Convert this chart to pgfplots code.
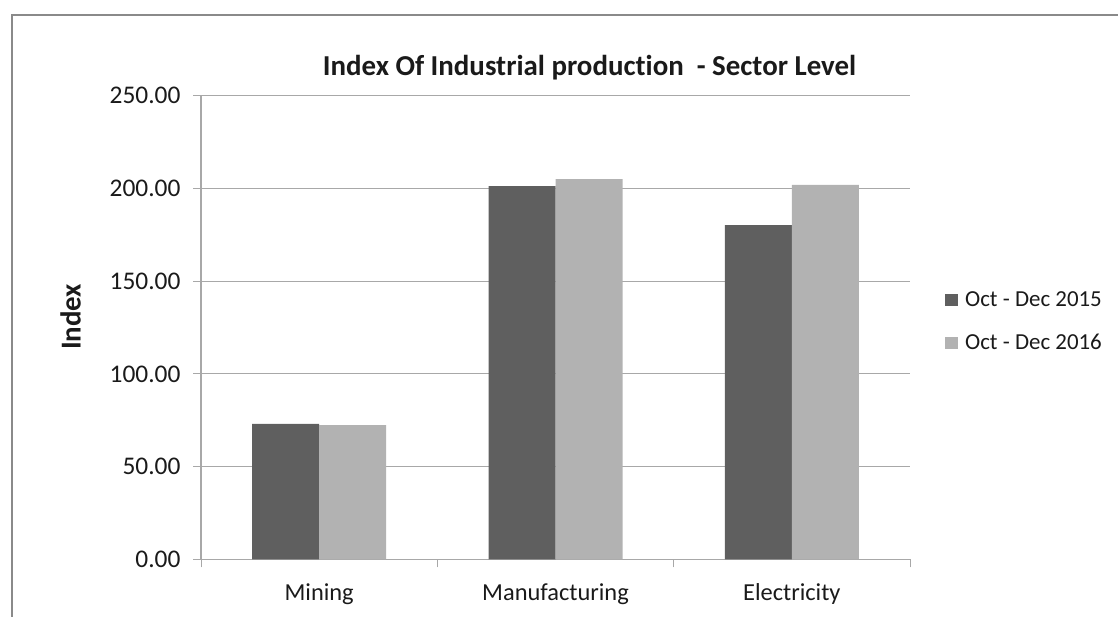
\documentclass[border=0pt]{standalone}
\usepackage{pgfplots}
\pgfplotsset{compat=1.18}
\usepackage{fontspec}
\setmainfont{Carlito}[Ligatures=NoCommon]
\definecolor{darkbar}{HTML}{5F5F5F}
\definecolor{lightbar}{HTML}{B2B2B2}
\definecolor{gridc}{HTML}{A8A8A8}
\definecolor{framec}{HTML}{8A8A8A}
\definecolor{txt}{HTML}{1A1A1A}
\begin{document}
\begin{tikzpicture}[x=1bp,y=1bp]
\useasboundingbox (0,0) rectangle (1118,617);
\draw[framec, line width=2.5bp] (12,0) -- (12,602) -- (1118,602);
\begin{axis}[
  at={(201bp,57.7bp)}, anchor=south west,
  scale only axis, width=709bp, height=463.5bp,
  ybar=0pt, bar width=67bp,
  xmin=-0.5, xmax=2.5, ymin=0, ymax=250,
  xtick={0,1,2}, xticklabels={Mining,Manufacturing,Electricity},
  major x tick style={draw=none},
  minor xtick={-0.5,0.5,1.5,2.5},
  minor x tick style={draw=gridc, line width=1bp},
  ytick={0,50,100,150,200,250},
  /pgf/number format/fixed, /pgf/number format/fixed zerofill,
  /pgf/number format/precision=2, /pgf/number format/assume math mode=true,
  ymajorgrids, grid style={draw=gridc, line width=1.2bp},
  axis x line*=bottom, axis y line*=left,
  axis line style={draw=gridc, line width=1.2bp},
  tick align=outside, major tick length=8bp, minor tick length=8bp,
  ytick style={draw=gridc, line width=1bp},
  yticklabel style={xshift=-9bp, font=\fontsize{25.5}{28}\selectfont, text=txt},
  xticklabel style={yshift=-13bp, font=\fontsize{24.5}{28}\selectfont, text=txt},
  title={\textbf{Index Of Industrial production\ \ - Sector Level}},
  title style={at={(axis description cs:0.548,1.031)}, anchor=base, font=\fontsize{29}{32}\selectfont, text=txt},
  ylabel={\textbf{Index}},
  ylabel style={at={(axis description cs:-0.184,0.523)}, anchor=center, font=\fontsize{29}{32}\selectfont, text=txt},
  legend style={at={(axis description cs:1.045,0.586)}, anchor=north west, draw=none, fill=none,
    font=\fontsize{23}{26}\selectfont, text=txt, row sep=22bp,
    /tikz/every odd column/.append style={column sep=5bp}},
  legend cell align=left,
  legend image code/.code={\fill[#1] (0bp,-6bp) rectangle (13bp,6bp);},
  clip=false,
]
\addplot[fill=darkbar, draw=none] coordinates {(0,73.0) (1,201.3) (2,180.2)};
\addplot[fill=lightbar, draw=none] coordinates {(0,72.3) (1,205.0) (2,202.0)};
\legend{Oct - Dec 2015, Oct - Dec 2016}
\end{axis}
\end{tikzpicture}
\end{document}
